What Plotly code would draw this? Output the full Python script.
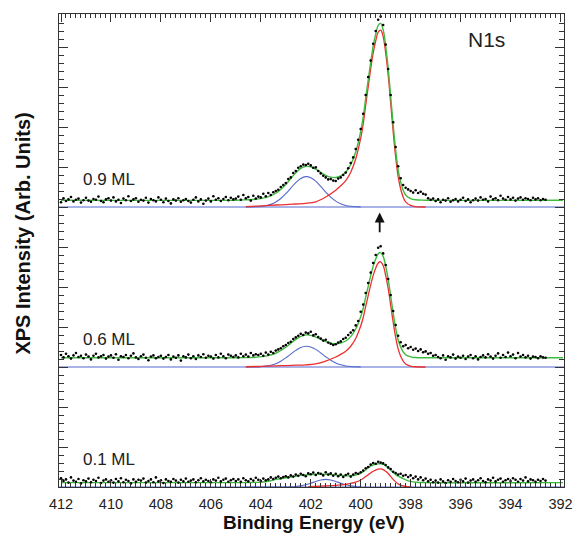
import numpy as np
import plotly.graph_objects as go

# ---------------- measured spectra (intensity above each panel's baseline) ----------------
E_START = 412.0   # first energy point, eV
E_STEP = 0.1      # spacing of the measured points, eV
N_POINTS = 195

DATA_09ML = [
    0.12, 0.22, 0.15, 0.19, 0.25, 0.14, 0.18, 0.21, 0.11, 0.17,
    0.23, 0.16, 0.13, 0.20, 0.18, 0.26, 0.15, 0.12, 0.19, 0.22,
    0.16, 0.24, 0.14, 0.18, 0.10, 0.21, 0.17, 0.27, 0.15, 0.19,
    0.22, 0.13, 0.18, 0.16, 0.23, 0.11, 0.20, 0.17, 0.14, 0.24,
    0.18, 0.12, 0.21, 0.15, 0.09, 0.19, 0.16, 0.22, 0.13, 0.17,
    0.20, 0.15, 0.11, 0.18, 0.24, 0.14, 0.19, 0.08, 0.16, 0.21,
    0.14, 0.27, 0.18, 0.22, 0.15, 0.20, 0.25, 0.17, 0.23, 0.19,
    0.21, 0.26, 0.18, 0.30, 0.22, 0.25, 0.16, 0.28, 0.21, 0.26,
    0.24, 0.33, 0.27, 0.35, 0.30, 0.37, 0.40, 0.43, 0.50, 0.55,
    0.60, 0.70, 0.74, 0.85, 0.90, 0.98, 1.02, 1.06, 1.05, 1.08,
    1.04, 0.98, 0.99, 0.90, 0.84, 0.78, 0.74, 0.69, 0.70, 0.66,
    0.65, 0.71, 0.74, 0.80, 0.86, 0.97, 1.10, 1.24, 1.45, 1.68,
    1.95, 2.33, 2.80, 3.25, 3.66, 4.08, 4.40, 4.68, 4.76, 4.55,
    4.06, 3.45, 2.80, 2.12, 1.50, 1.02, 0.72, 0.55, 0.48, 0.44,
    0.40, 0.36, 0.42, 0.35, 0.38, 0.33, 0.31, 0.22, 0.18, 0.21,
    0.15, 0.19, 0.12, 0.18, 0.16, 0.22, 0.13, 0.17, 0.20, 0.14,
    0.18, 0.23, 0.15, 0.19, 0.12, 0.17, 0.21, 0.16, 0.24, 0.18,
    0.20, 0.14, 0.26, 0.19, 0.22, 0.17, 0.28, 0.21, 0.18, 0.25,
    0.19, 0.23, 0.16, 0.21, 0.24, 0.18, 0.22, 0.20, 0.17, 0.23,
    0.19, 0.22, 0.17, 0.20, 0.18,
]

DATA_06ML = [
    0.30, 0.24, 0.33, 0.27, 0.21, 0.29, 0.35, 0.25, 0.28, 0.22,
    0.31, 0.26, 0.19, 0.28, 0.33, 0.24, 0.27, 0.30, 0.21, 0.26,
    0.29, 0.23, 0.32, 0.18, 0.27, 0.25, 0.30, 0.22, 0.28, 0.34,
    0.24, 0.20, 0.27, 0.31, 0.23, 0.17, 0.26, 0.29, 0.22, 0.25,
    0.28, 0.21, 0.25, 0.30, 0.19, 0.26, 0.23, 0.29, 0.16, 0.27,
    0.24, 0.31, 0.22, 0.27, 0.20, 0.29, 0.25, 0.32, 0.23, 0.28,
    0.26, 0.21, 0.30, 0.24, 0.33, 0.27, 0.22, 0.31, 0.28, 0.25,
    0.29, 0.24, 0.33, 0.27, 0.31, 0.26, 0.35, 0.29, 0.32, 0.30,
    0.33, 0.28, 0.36, 0.31, 0.38, 0.35, 0.41, 0.44, 0.47, 0.52,
    0.55, 0.60, 0.63, 0.70, 0.74, 0.78, 0.83, 0.80, 0.86, 0.84,
    0.88, 0.79, 0.82, 0.75, 0.71, 0.66, 0.68, 0.61, 0.58, 0.55,
    0.57, 0.61, 0.64, 0.70, 0.73, 0.80, 0.86, 0.92, 1.04, 1.15,
    1.38, 1.56, 1.85, 2.10, 2.36, 2.60, 2.80, 2.98, 3.02, 2.84,
    2.55, 2.20, 1.80, 1.40, 1.05, 0.78, 0.62, 0.52, 0.55, 0.47,
    0.50, 0.43, 0.46, 0.40, 0.44, 0.37, 0.39, 0.33, 0.35, 0.28,
    0.30, 0.25, 0.22, 0.29, 0.18, 0.27, 0.24, 0.31, 0.21, 0.26,
    0.23, 0.28, 0.20, 0.26, 0.30, 0.22, 0.27, 0.19, 0.25, 0.29,
    0.24, 0.32, 0.26, 0.21, 0.28, 0.34, 0.23, 0.30, 0.25, 0.36,
    0.27, 0.31, 0.22, 0.35, 0.26, 0.30, 0.24, 0.28, 0.21, 0.26,
    0.25, 0.22, 0.27, 0.24, 0.23,
]

DATA_01ML = [
    0.22, 0.15, 0.19, 0.11, 0.24, 0.16, 0.13, 0.20, 0.09, 0.17,
    0.14, 0.21, 0.12, 0.18, 0.15, 0.23, 0.10, 0.16, 0.19, 0.13,
    0.17, 0.11, 0.20, 0.14, 0.22, 0.12, 0.18, 0.15, 0.09, 0.19,
    0.13, 0.18, 0.16, 0.21, 0.11, 0.15, 0.19, 0.12, 0.24, 0.14,
    0.17, 0.10, 0.19, 0.15, 0.13, 0.20, 0.16, 0.11, 0.18, 0.14,
    0.21, 0.13, 0.16, 0.19, 0.12, 0.17, 0.22, 0.14, 0.18, 0.15,
    0.12, 0.19, 0.16, 0.23, 0.14, 0.18, 0.21, 0.13, 0.17, 0.20,
    0.15, 0.19, 0.13, 0.22, 0.17, 0.14, 0.20, 0.16, 0.23, 0.18,
    0.15, 0.21, 0.17, 0.19, 0.24, 0.20, 0.23, 0.26, 0.22, 0.25,
    0.27, 0.24, 0.29, 0.26, 0.31, 0.28, 0.33, 0.30, 0.27, 0.34,
    0.32, 0.36, 0.30, 0.35, 0.33, 0.29, 0.37, 0.31, 0.34, 0.28,
    0.33, 0.27, 0.31, 0.25, 0.30, 0.33, 0.26, 0.31, 0.35, 0.33,
    0.37, 0.41, 0.47, 0.50, 0.56, 0.60, 0.58, 0.63, 0.61, 0.59,
    0.55, 0.49, 0.45, 0.38, 0.35, 0.31, 0.33, 0.28, 0.30, 0.25,
    0.29, 0.22, 0.26, 0.19, 0.24, 0.17, 0.21, 0.14, 0.18, 0.12,
    0.16, 0.11, 0.19, 0.14, 0.10, 0.17, 0.13, 0.20, 0.15, 0.12,
    0.18, 0.14, 0.21, 0.11, 0.16, 0.19, 0.13, 0.17, 0.22, 0.15,
    0.12, 0.19, 0.16, 0.23, 0.14, 0.18, 0.21, 0.13, 0.17, 0.20,
    0.15, 0.22, 0.18, 0.13, 0.20, 0.16, 0.24, 0.14, 0.19, 0.17,
    0.13, 0.18, 0.15, 0.20, 0.16,
]

# ---------------- fitted envelopes (green) ----------------
FIT_E = [412.0, 405.0, 404.6, 404.2, 403.8, 403.4, 403.0, 402.8, 402.6, 402.4,
         402.2, 402.0, 401.8, 401.6, 401.4, 401.2, 401.0, 400.8, 400.6, 400.4,
         400.2, 400.0, 399.9, 399.8, 399.7, 399.6, 399.5, 399.4, 399.3, 399.2,
         399.1, 399.0, 398.9, 398.8, 398.7, 398.6, 398.5, 398.4, 398.3, 398.2,
         398.0, 397.8, 397.4, 391.9]

FIT_09ML = [0.17, 0.17, 0.18, 0.195, 0.236, 0.343, 0.562, 0.712, 0.853, 0.964,
            1.02, 1.004, 0.945, 0.864, 0.793, 0.746, 0.737, 0.78, 0.869, 1.058,
            1.377, 1.893, 2.25, 2.72, 3.17, 3.62, 4.02, 4.32, 4.54, 4.59,
            4.43, 4.02, 3.47, 2.77, 2.05, 1.42, 0.93, 0.62, 0.42, 0.30,
            0.21, 0.18, 0.17, 0.17]

FIT_06ML = [0.23, 0.23, 0.236, 0.245, 0.272, 0.344, 0.493, 0.595, 0.689, 0.766,
            0.803, 0.792, 0.748, 0.689, 0.634, 0.594, 0.581, 0.600, 0.650, 0.760,
            0.949, 1.255, 1.468, 1.747, 2.015, 2.283, 2.521, 2.699, 2.830, 2.860,
            2.765, 2.521, 2.194, 1.777, 1.349, 0.974, 0.682, 0.498, 0.379, 0.307,
            0.254, 0.236, 0.23, 0.23]

FIT_01ML = [0.11, 0.11, 0.11, 0.115, 0.13, 0.19, 0.23, 0.25, 0.27, 0.29,
            0.30, 0.31, 0.32, 0.32, 0.32, 0.31, 0.30, 0.29, 0.28, 0.28,
            0.30, 0.34, 0.38, 0.43, 0.48, 0.52, 0.55, 0.57, 0.58, 0.58,
            0.57, 0.53, 0.48, 0.42, 0.36, 0.31, 0.27, 0.24, 0.21, 0.18,
            0.14, 0.12, 0.11, 0.11]

# ---------------- main component near 399.2 eV (red) ----------------
MAIN_E = [404.6, 404.2, 403.8, 403.4, 403.0, 402.6, 402.2, 401.8, 401.4, 401.0,
          400.8, 400.6, 400.4, 400.2, 400.0, 399.9, 399.8, 399.7, 399.6, 399.5,
          399.4, 399.3, 399.2, 399.1, 399.0, 398.9, 398.8, 398.7, 398.6, 398.5,
          398.4, 398.3, 398.2, 398.0, 397.8, 397.4]
MAIN_09ML = [0.01, 0.02, 0.035, 0.05, 0.06, 0.075, 0.09, 0.13, 0.25, 0.42,
             0.53, 0.66, 0.87, 1.20, 1.72, 2.08, 2.55, 3.00, 3.45, 3.85,
             4.15, 4.37, 4.42, 4.26, 3.85, 3.30, 2.60, 1.88, 1.25, 0.76,
             0.45, 0.25, 0.13, 0.04, 0.01, 0.0]
MAIN_06ML = [0.006, 0.012, 0.021, 0.03, 0.036, 0.045, 0.054, 0.077, 0.149, 0.25,
             0.315, 0.393, 0.518, 0.714, 1.023, 1.238, 1.517, 1.785, 2.053, 2.291,
             2.469, 2.600, 2.630, 2.535, 2.291, 1.964, 1.547, 1.119, 0.744, 0.452,
             0.268, 0.149, 0.077, 0.024, 0.006, 0.0]
MAIN_01ML_E = [402.1, 401.8, 401.4, 401.0, 400.8, 400.6, 400.4, 400.2, 400.0, 399.9,
               399.8, 399.7, 399.6, 399.5, 399.4, 399.3, 399.2, 399.1, 399.0, 398.9,
               398.8, 398.7, 398.6, 398.5, 398.4, 398.3, 398.2, 398.0]
MAIN_01ML = [0.009, 0.013, 0.026, 0.043, 0.054, 0.067, 0.089, 0.122, 0.175, 0.212,
             0.26, 0.306, 0.352, 0.393, 0.423, 0.446, 0.451, 0.435, 0.393, 0.337,
             0.265, 0.192, 0.128, 0.078, 0.046, 0.026, 0.013, 0.004]

# ---------------- minor component near 402 eV (blue) ----------------
MINOR_E = [404.6, 404.4, 404.2, 404.0, 403.8, 403.6, 403.4, 403.2, 403.0, 402.8,
           402.6, 402.4, 402.2, 402.0, 401.8, 401.6, 401.4, 401.2, 401.0, 400.8,
           400.6, 400.4, 400.2, 400.0]
MINOR_09ML = [0.0, 0.002, 0.005, 0.014, 0.031, 0.066, 0.123, 0.213, 0.332, 0.472,
              0.608, 0.714, 0.760, 0.734, 0.645, 0.514, 0.373, 0.246, 0.147, 0.080,
              0.039, 0.018, 0.007, 0.003]
MINOR_06ML = [0.0, 0.001, 0.003, 0.010, 0.021, 0.045, 0.084, 0.146, 0.227, 0.323,
              0.416, 0.488, 0.520, 0.502, 0.441, 0.352, 0.255, 0.168, 0.101, 0.055,
              0.027, 0.012, 0.005, 0.002]
MINOR_01ML = [0.0, 0.0, 0.0, 0.0, 0.0, 0.0, 0.0, 0.0, 0.001, 0.004,
              0.012, 0.028, 0.055, 0.095, 0.140, 0.176, 0.190, 0.176, 0.140, 0.095,
              0.055, 0.028, 0.012, 0.004]

COVERAGES = ["0.9 ML", "0.6 ML", "0.1 ML"]
PANEL_DATA = [DATA_09ML, DATA_06ML, DATA_01ML]
PANEL_FIT = [FIT_09ML, FIT_06ML, FIT_01ML]
PANEL_MAIN = [(MAIN_E, MAIN_09ML), (MAIN_E, MAIN_06ML), (MAIN_01ML_E, MAIN_01ML)]
PANEL_MINOR = [MINOR_09ML, MINOR_06ML, MINOR_01ML]

X_TICKS = [412, 410, 408, 406, 404, 402, 400, 398, 396, 394, 392]

# stacking: vertical offset of each spectrum's baseline
OFFSETS = [7.0, 3.0, 0.0]
X_RANGE = [412.08, 391.86]
Y_RANGE = [0.0, 11.825]

GREEN = "#3dbb3d"
RED = "#ec2f2f"
BLUE = "#5468cc"
FONT = "Liberation Sans, Arial, sans-serif"

energy = np.round(E_START - E_STEP * np.arange(N_POINTS), 2)

fig = go.Figure()

for label, data, fit, (me, main), minor, off in zip(
        COVERAGES, PANEL_DATA, PANEL_FIT, PANEL_MAIN, PANEL_MINOR, OFFSETS):
    # baseline of the stacked spectrum
    fig.add_trace(go.Scatter(x=X_RANGE, y=[off, off], mode="lines",
                             line=dict(color=BLUE, width=1.1), hoverinfo="skip"))
    fig.add_trace(go.Scatter(x=MINOR_E, y=np.array(minor) + off, mode="lines",
                             line=dict(color=BLUE, width=1.1, shape="spline"),
                             hoverinfo="skip"))
    fig.add_trace(go.Scatter(x=me, y=np.array(main) + off, mode="lines",
                             line=dict(color=RED, width=1.3, shape="spline"),
                             hoverinfo="skip"))
    fig.add_trace(go.Scatter(x=FIT_E, y=np.array(fit) + off, mode="lines",
                             line=dict(color=GREEN, width=1.4, shape="spline"),
                             hoverinfo="skip"))
    fig.add_trace(go.Scatter(x=energy, y=np.array(data) + off, mode="markers",
                             marker=dict(color="black", size=2.6), hoverinfo="skip"))
    fig.add_annotation(x=411.2, y=off + 0.68, text=label, showarrow=False,
                       xanchor="left", yanchor="middle",
                       font=dict(family=FONT, size=17, color="#222222"))

# arrow marking the main peak position
fig.add_annotation(x=399.24, y=6.86, ax=399.24, ay=6.33, axref="x", ayref="y",
                   text="", showarrow=True, arrowhead=2, arrowsize=1.1,
                   arrowwidth=1.8, arrowcolor="#111111")

fig.add_annotation(x=0.805, y=0.947, xref="paper", yref="paper", text="N1s",
                   showarrow=False, xanchor="left", yanchor="middle",
                   font=dict(family=FONT, size=21, color="#222222"))

fig.add_annotation(x=0.505, y=-0.0761, xref="paper", yref="paper",
                   text="<b>Binding Energy (eV)</b>", showarrow=False,
                   xanchor="center", yanchor="middle",
                   font=dict(family=FONT, size=19, color="#111111"))
fig.add_annotation(x=-0.072, y=0.535, xref="paper", yref="paper",
                   text="<b>XPS Intensity (Arb. Units)</b>", showarrow=False,
                   textangle=-90, xanchor="center", yanchor="middle",
                   font=dict(family=FONT, size=20, color="#111111"))

fig.update_layout(
    width=585, height=534,
    margin=dict(l=59, r=13, t=14, b=47),
    plot_bgcolor="white", paper_bgcolor="white",
    showlegend=False,
    font=dict(family=FONT, color="#222222"),
    xaxis=dict(range=X_RANGE, tickvals=X_TICKS, ticks="inside", ticklen=8,
               tickwidth=1, tickcolor="#333333", showline=True, linecolor="#333333",
               linewidth=1, mirror="allticks", showgrid=False, zeroline=False,
               ticklabelstandoff=4,
               tickfont=dict(family=FONT, size=14.5, color="#222222"),
               minor=dict(dtick=0.2, tick0=392, ticks="inside", ticklen=4,
                          tickcolor="#333333", showgrid=False)),
    yaxis=dict(range=Y_RANGE, tick0=0, dtick=1, ticks="inside", ticklen=9,
               tickwidth=1, tickcolor="#333333", showline=True, linecolor="#333333",
               linewidth=1, mirror="allticks", showgrid=False, zeroline=False,
               showticklabels=False,
               minor=dict(dtick=0.2, tick0=0, ticks="inside", ticklen=5,
                          tickcolor="#333333", showgrid=False)),
)

fig.write_html("out.html")
